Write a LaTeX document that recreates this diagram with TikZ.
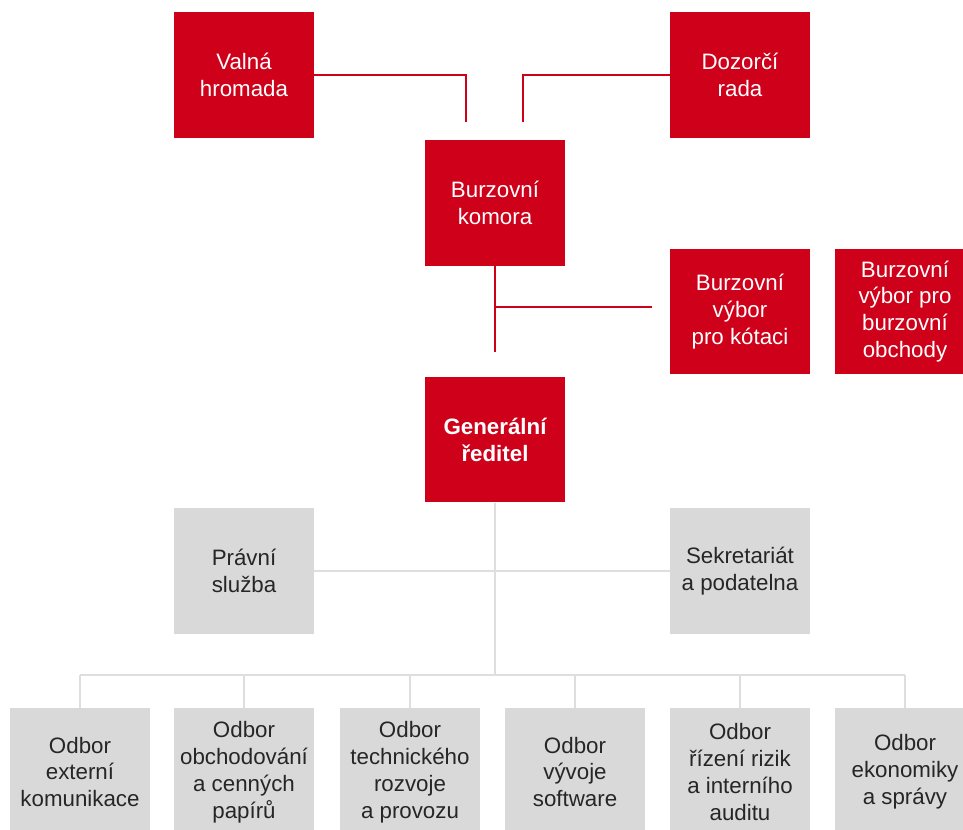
\documentclass[tikz,border=0pt]{standalone}
\usepackage{fontspec}
\setmainfont{Liberation Sans}
\usetikzlibrary{positioning}
\definecolor{bcppred}{RGB}{206,0,26}
\definecolor{bcppgray}{RGB}{217,217,217}
\definecolor{bcppline}{RGB}{222,222,222}

\begin{document}
\begin{tikzpicture}[x=0.02cm,y=-0.02cm]
\tikzstyle{every node}=[inner sep=0pt,align=center,font=\fontsize{12.7}{15.3}\selectfont]
\tikzstyle{redbox}=[fill=bcppred,text=white,minimum width=2.8cm,minimum height=2.52cm]
\tikzstyle{graybox}=[fill=bcppgray,text=black!85,minimum width=2.8cm,minimum height=2.52cm]
\tikzstyle{odbor}=[graybox,minimum height=2.56cm]
\tikzstyle{redline}=[draw=bcppred,line width=0.6pt]
\tikzstyle{grayline}=[draw=bcppline,line width=0.9pt]
\useasboundingbox (0,0) rectangle (963,829);

\node[redbox] (valna) at (244,75) {Valná\\hromada};
\node[redbox] (dozorci) at (740,75) {Dozorčí\\rada};
\node[redbox] (komora) at (495,203) {Burzovní\\komora};
\node[redbox] (kotace) at (740,311.5) {Burzovní\\výbor\\pro kótaci};
\node[redbox] (obchody) at (905,311.5) {Burzovní\\výbor pro\\burzovní\\obchody};
\node[redbox,font=\fontsize{12.7}{15.3}\selectfont\bfseries] (reditel) at (495,439.5) {Generální\\ředitel};
\node[graybox] (pravni) at (244,571) {Právní\\služba};
\node[graybox] (sekretariat) at (740,571) {Sekretariát\\a podatelna};

\node[odbor] (ext) at (80,772) {Odbor\\externí\\komunikace};
\node[odbor] (obch) at (244,772) {Odbor\\obchodování\\a cenných\\papírů};
\node[odbor] (tech) at (410,772) {Odbor\\technického\\rozvoje\\a provozu};
\node[odbor] (vyvoj) at (575,772) {Odbor\\vývoje\\software};
\node[odbor] (rizika) at (740,772) {Odbor\\řízení rizik\\a interního\\auditu};
\node[odbor] (ekon) at (905,772) {Odbor\\ekonomiky\\a správy};

\coordinate (vh) at (466,122);
\coordinate (dr) at (523,122);
\coordinate (km) at (495,352);
\coordinate (kv) at (652,307);
\coordinate (bus) at (495,675);

\draw[redline] (valna.east) -| (vh);
\draw[redline] (dozorci.west) -| (dr);
\draw[redline] (komora.south) -- (km);
\draw[redline] (komora.south |- kv) -- (kv);

\draw[grayline] (reditel.south) -- (bus);
\draw[grayline] (pravni.east) -- (sekretariat.west);
\draw[grayline] (ext.north |- bus) -- (ekon.north |- bus);
\foreach \n in {ext,obch,tech,vyvoj,rizika,ekon}
	\draw[grayline] (\n.north |- bus) -- (\n.north);
\end{tikzpicture}
\end{document}
